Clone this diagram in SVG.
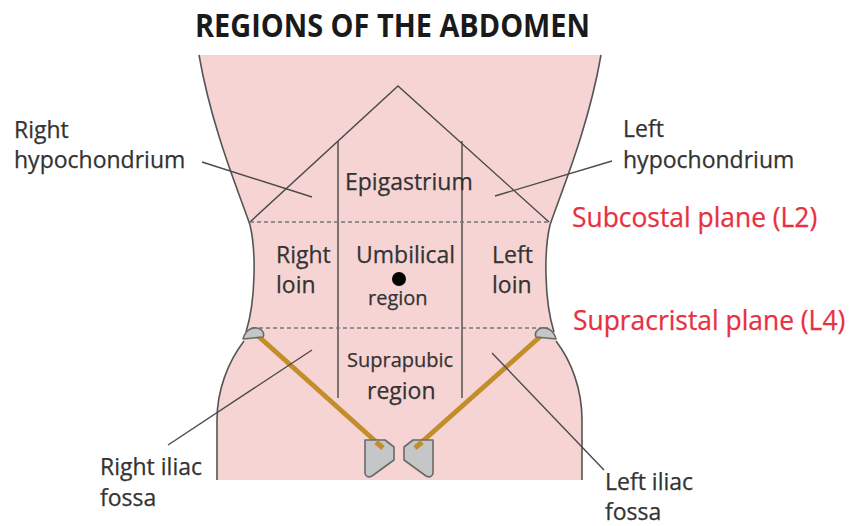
<svg xmlns="http://www.w3.org/2000/svg" width="850" height="526" viewBox="0 0 850 526">
  <style>
    text { font-family: "Open Sans", "Noto Sans", "DejaVu Sans", sans-serif; fill: #333333; stroke: #333333; stroke-width: 0.25; }
    .lbl { font-size: 23px; }
    .sm { font-size: 20px; }
    .plane { font-size: 26.4px; fill: #e8303f; stroke: #e8303f; }
    .title { font-size: 32px; font-weight: bold; fill: #1a1a1a; stroke: none; }
    .outline { fill: none; stroke: #555; stroke-width: 1.6; }
    .line { fill: none; stroke: #4a4a4a; stroke-width: 1.4; }
    .dash { fill: none; stroke: #777; stroke-width: 1.3; stroke-dasharray: 4 3; }
    .lig { fill: none; stroke: #c28e2c; stroke-width: 5; stroke-linecap: butt; }
    .bone { fill: #c4c6c8; stroke: #6a6a6a; stroke-width: 1.6; stroke-linejoin: round; }
  </style>

  <rect width="850" height="526" fill="#ffffff"/>

  <text class="title" x="195" y="37" textLength="395" lengthAdjust="spacingAndGlyphs">REGIONS OF THE ABDOMEN</text>

  <!-- torso -->
  <g id="torso">
    <path fill="#f7d4d4" d="M199,55 L601,55 C588,130 560,195 550,225 C544,250 544,300 554,332 L556,341 C572,362 582,390 582,420 L582,480 L217,480 L217,420 C217,390 228,362 244,341 L246,332 C256,300 256,250 250,225 C240,195 212,130 199,55 Z"/>
    <path class="outline" d="M199,55 C212,130 240,195 250,225 C256,250 256,300 246,332"/>
    <path class="outline" d="M244,341 C228,362 217,390 217,420 L217,480"/>
    <path class="outline" d="M601,55 C588,130 560,195 550,225 C544,250 544,300 554,332"/>
    <path class="outline" d="M556,341 C572,362 582,390 582,420 L582,480"/>
  </g>

  <!-- region boundaries -->
  <g id="boundaries">
    <path class="line" d="M250,222 L398,86 L549,222"/>
    <path class="line" d="M338,141 L338,398"/>
    <path class="line" d="M462,141 L462,398"/>
    <path class="dash" d="M250,222 L549,222"/>
    <path class="dash" d="M252,328 L548,328"/>
  </g>

  <!-- iliac crests and inguinal ligaments -->
  <g id="ligaments">
    <path class="lig" d="M257,335 L383,448"/>
    <path class="lig" d="M542,335 L415,448"/>
  </g>
  <g id="iliac-crest-right">
    <path class="bone" d="M243,339 C245,331 251,327 257,328 C262,329 265,333 263,337 Z"/>
  </g>
  <g id="iliac-crest-left">
    <path class="bone" d="M556,339 C554,331 548,327 542,328 C537,329 534,333 536,337 Z"/>
  </g>
  <g id="pubis">
    <path class="bone" d="M365,440 L385,440 L394,447 L394,460 L372,476 C368,478 365,476 365,473 Z"/>
    <path class="bone" d="M433,440 L413,440 L404,447 L404,460 L426,476 C430,478 433,476 433,473 Z"/>
  </g>
  <g id="lig-ends">
    <path class="lig" d="M376,442 L383,448"/>
    <path class="lig" d="M422,442 L415,448"/>
  </g>

  <!-- umbilicus -->
  <circle cx="399" cy="279" r="7" fill="#000"/>

  <!-- leader lines -->
  <g id="connectors">
    <path class="line" d="M202,162 L312,197"/>
    <path class="line" d="M612,161 L495,196"/>
    <path class="line" d="M312,350 L168,445"/>
    <path class="line" d="M492,353 L604,470"/>
  </g>

  <!-- region labels -->
  <g id="epigastrium"><text class="lbl" x="345" y="190">Epigastrium</text></g>
  <g id="right-loin"><text class="lbl" x="276" y="263">Right</text><text class="lbl" x="276" y="293">loin</text></g>
  <g id="umbilical"><text class="lbl" x="356" y="263">Umbilical</text><text class="sm" x="368" y="305">region</text></g>
  <g id="left-loin"><text class="lbl" x="492" y="263">Left</text><text class="lbl" x="492" y="293">loin</text></g>
  <g id="suprapubic"><text class="sm" x="347" y="367" font-size="19.5">Suprapubic</text><text class="lbl" x="367" y="399">region</text></g>

  <!-- external labels -->
  <g id="right-hypochondrium"><text class="lbl" x="14" y="138">Right</text><text class="lbl" x="14" y="168">hypochondrium</text></g>
  <g id="left-hypochondrium"><text class="lbl" x="623" y="137">Left</text><text class="lbl" x="623" y="168">hypochondrium</text></g>
  <g id="subcostal"><text class="plane" x="572" y="227">Subcostal plane (L2)</text></g>
  <g id="supracristal"><text class="plane" x="573" y="330">Supracristal plane (L4)</text></g>
  <g id="right-iliac-fossa"><text class="lbl" x="100" y="475">Right iliac</text><text class="lbl" x="100" y="506">fossa</text></g>
  <g id="left-iliac-fossa"><text class="lbl" x="605" y="490">Left iliac</text><text class="lbl" x="605" y="520">fossa</text></g>
</svg>
